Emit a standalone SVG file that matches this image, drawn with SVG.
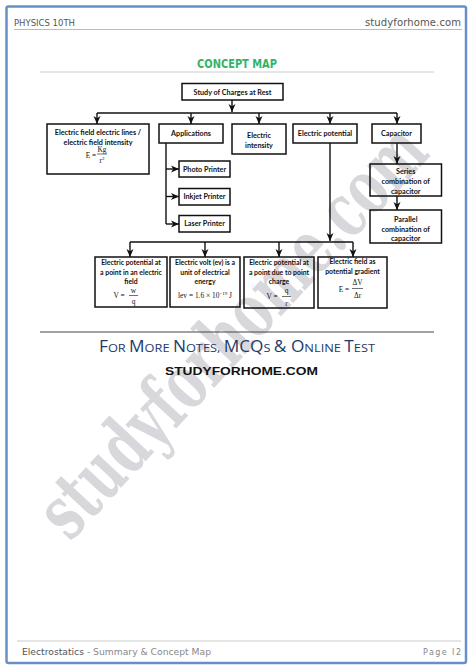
<svg xmlns="http://www.w3.org/2000/svg" width="474" height="670" viewBox="0 0 474 670">
<style>
.box{fill:none;stroke:#111;stroke-width:1.5}
.lbl{font-family:Lato,"Liberation Sans",sans-serif;font-weight:bold;font-size:7.2px;fill:#111;text-anchor:middle}
.sm{font-size:6.9px}
.fm{font-family:"Liberation Serif","DejaVu Serif",serif;font-size:7.4px;fill:#111;text-anchor:middle}
.con{fill:none;stroke:#111;stroke-width:1.4}
.hdr{font-family:"DejaVu Sans","Liberation Sans",sans-serif;fill:#555}
</style>
<defs>
<marker id="ah" markerUnits="userSpaceOnUse" markerWidth="8" markerHeight="8" viewBox="0 0 8 8" refX="8" refY="4" orient="auto">
<path d="M0,0.5 L8,4 L0,7.5 L2.2,4 z" fill="#111"/>
</marker>
</defs>
<rect x="0" y="0" width="474" height="670" fill="#fff"/>
<rect x="6.5" y="6.5" width="459.5" height="656.5" rx="2" fill="none" stroke="#6a8fc8" stroke-width="2.5"/>
<text x="236" y="355" transform="rotate(-47 236 335)" font-family="'DejaVu Serif',serif" font-weight="bold" font-stretch="condensed" font-size="76" fill="#d8d8dc" text-anchor="middle" textLength="530" lengthAdjust="spacingAndGlyphs">studyforhome.com</text>
<text class="hdr" x="14" y="26" font-size="8.5" textLength="61" lengthAdjust="spacingAndGlyphs">PHYSICS 10TH</text>
<text class="hdr" x="461" y="26" font-size="10" text-anchor="end" textLength="96" lengthAdjust="spacing">studyforhome.com</text>
<line x1="14" y1="29.5" x2="462" y2="29.5" stroke="#bbb" stroke-width="1"/>
<text x="237" y="67.5" font-family="'DejaVu Sans','Liberation Sans',sans-serif" font-weight="bold" font-size="12.5" fill="#2fb46a" text-anchor="middle" textLength="80" lengthAdjust="spacingAndGlyphs">CONCEPT MAP</text>
<line x1="40" y1="72" x2="434" y2="72" stroke="#ccc" stroke-width="1"/>
<g id="connectors">
<line class="con" x1="232" y1="100" x2="232" y2="112" marker-end="url(#ah)"/>
<line class="con" x1="97" y1="113" x2="397" y2="113"/>
<line class="con" x1="97" y1="113" x2="97" y2="124" marker-end="url(#ah)"/>
<line class="con" x1="191" y1="113" x2="191" y2="124" marker-end="url(#ah)"/>
<line class="con" x1="259" y1="113" x2="259" y2="124" marker-end="url(#ah)"/>
<line class="con" x1="330" y1="113" x2="330" y2="124" marker-end="url(#ah)"/>
<line class="con" x1="397" y1="113" x2="397" y2="124" marker-end="url(#ah)"/>
<line class="con" x1="166" y1="143" x2="166" y2="224"/>
<line class="con" x1="166" y1="169" x2="179" y2="169" marker-end="url(#ah)"/>
<line class="con" x1="166" y1="196.5" x2="179" y2="196.5" marker-end="url(#ah)"/>
<line class="con" x1="166" y1="224" x2="179" y2="224" marker-end="url(#ah)"/>
<line class="con" x1="330" y1="143" x2="330" y2="241" marker-end="url(#ah)"/>
<line class="con" x1="130" y1="242" x2="353" y2="242"/>
<line class="con" x1="130" y1="242" x2="130" y2="257" marker-end="url(#ah)"/>
<line class="con" x1="205" y1="242" x2="205" y2="257" marker-end="url(#ah)"/>
<line class="con" x1="279" y1="242" x2="279" y2="257" marker-end="url(#ah)"/>
<line class="con" x1="353" y1="242" x2="353" y2="257" marker-end="url(#ah)"/>
<line class="con" x1="397" y1="143" x2="397" y2="164" marker-end="url(#ah)"/>
<line class="con" x1="397" y1="196" x2="397" y2="210" marker-end="url(#ah)"/>
</g>
<g id="n-root"><rect class="box" x="182" y="83.5" width="101" height="16.5"/><text class="lbl" x="232.5" y="94.5">Study of Charges at Rest</text></g>
<g id="n-field"><rect class="box" x="47" y="124" width="102" height="50"/>
<text class="lbl" x="98" y="134.5">Electric field electric lines /</text>
<text class="lbl" x="98" y="144.5">electric field intensity</text>
<text class="fm" x="91" y="157.5">E =</text>
<text class="fm" x="102" y="152">Kg</text>
<line x1="97" y1="154" x2="107" y2="154" stroke="#111" stroke-width="0.6"/>
<text class="fm" x="102" y="162.5">r<tspan font-size="5" dy="-3">2</tspan></text>
</g>
<g id="n-app"><rect class="box" x="159" y="124" width="64" height="19"/><text class="lbl" x="191" y="136">Applications</text></g>
<g id="n-int"><rect class="box" x="232" y="124" width="54" height="30"/><text class="lbl" x="259" y="138">Electric</text><text class="lbl" x="259" y="148">intensity</text></g>
<g id="n-pot"><rect class="box" x="293" y="124" width="64" height="19"/><text class="lbl" x="325" y="136">Electric potential</text></g>
<g id="n-cap"><rect class="box" x="372" y="124" width="49" height="19"/><text class="lbl" x="396.5" y="136">Capacitor</text></g>
<g id="n-photo"><rect class="box" x="179" y="161" width="51" height="16"/><text class="lbl" x="204.5" y="171.5">Photo Printer</text></g>
<g id="n-inkjet"><rect class="box" x="179" y="188.5" width="51" height="16.5"/><text class="lbl" x="204.5" y="199.3">Inkjet Printer</text></g>
<g id="n-laser"><rect class="box" x="179" y="215.5" width="51" height="16.5"/><text class="lbl" x="204.5" y="226.3">Laser Printer</text></g>
<g id="n-series"><rect class="box" x="370" y="164" width="71.5" height="32"/><text class="lbl" x="405.7" y="174">Series</text><text class="lbl" x="405.7" y="184">combination of</text><text class="lbl" x="405.7" y="194">capacitor</text></g>
<g id="n-parallel"><rect class="box" x="370" y="210" width="71.5" height="33"/><text class="lbl" x="405.7" y="221.5">Parallel</text><text class="lbl" x="405.7" y="231.5">combination of</text><text class="lbl" x="405.7" y="241.3">capacitor</text></g>
<g id="n-b1"><rect class="box" x="95" y="257" width="72" height="50"/>
<text class="lbl sm" x="131" y="264.8">Electric potential at</text>
<text class="lbl sm" x="131" y="274.8">a point in an electric</text>
<text class="lbl sm" x="131" y="284.3">field</text>
<text class="fm" x="119" y="298">V =</text>
<text class="fm" x="133.5" y="292.5">w</text>
<line x1="129" y1="295.5" x2="138" y2="295.5" stroke="#111" stroke-width="0.6"/>
<text class="fm" x="133.5" y="304">q</text>
</g>
<g id="n-b2"><rect class="box" x="170" y="257" width="70" height="50"/>
<text class="lbl sm" x="205" y="264.8">Electric volt (ev) is a</text>
<text class="lbl sm" x="205" y="274.8">unit of electrical</text>
<text class="lbl sm" x="205" y="284.3">energy</text>
<text class="fm" x="205" y="297.5">lev = 1.6 × 10<tspan font-size="5" dy="-3">−19</tspan><tspan dy="3"> J</tspan></text>
</g>
<g id="n-b3"><rect class="box" x="244" y="257" width="70" height="51"/>
<text class="lbl sm" x="279" y="264.8">Electric potential at</text>
<text class="lbl sm" x="279" y="274.8">a point due to point</text>
<text class="lbl sm" x="279" y="284.3">charge</text>
<text class="fm" x="272" y="298.5">V =</text>
<text class="fm" x="286.5" y="293">q</text>
<line x1="282" y1="296.5" x2="291" y2="296.5" stroke="#111" stroke-width="0.6"/>
<text class="fm" x="286.5" y="306">r</text>
</g>
<g id="n-b4"><rect class="box" x="318" y="257" width="69" height="51"/>
<text class="lbl sm" x="352.5" y="263.8">Electric field as</text>
<text class="lbl sm" x="352.5" y="274.3">potential gradient</text>
<text class="fm" x="344" y="291.5">E =</text>
<text class="fm" x="357.5" y="285">ΔV</text>
<line x1="352" y1="288.5" x2="363" y2="288.5" stroke="#111" stroke-width="0.6"/>
<text class="fm" x="357.5" y="298">Δr</text>
</g>
<line x1="40" y1="332" x2="434" y2="332" stroke="#444" stroke-width="1.2"/>
<text x="237" y="352" font-family="'Open Sans','Liberation Sans',sans-serif" fill="#1f3a68" text-anchor="middle" textLength="276" lengthAdjust="spacingAndGlyphs" font-size="11.5"><tspan font-size="15.5">F</tspan>OR <tspan font-size="15.5">M</tspan>ORE <tspan font-size="15.5">N</tspan>OTES, <tspan font-size="15.5">MCQ</tspan>S <tspan font-size="15.5">&amp; O</tspan>NLINE <tspan font-size="15.5">T</tspan>EST</text>
<text x="241.5" y="375" font-family="'Liberation Sans',sans-serif" font-weight="bold" font-size="11.8" fill="#111" text-anchor="middle" textLength="153" lengthAdjust="spacingAndGlyphs">STUDYFORHOME.COM</text>
<line x1="17" y1="641" x2="461" y2="641" stroke="#ccc" stroke-width="1"/>
<text x="22" y="655" font-family="'DejaVu Sans','Liberation Sans',sans-serif" font-size="8" fill="#888" textLength="189" lengthAdjust="spacingAndGlyphs"><tspan fill="#555">Electrostatics</tspan> - Summary &amp; Concept Map</text>
<text x="461" y="655" font-family="'DejaVu Sans','Liberation Sans',sans-serif" font-size="8" fill="#888" text-anchor="end" textLength="38" lengthAdjust="spacing">Page I2</text>
</svg>
